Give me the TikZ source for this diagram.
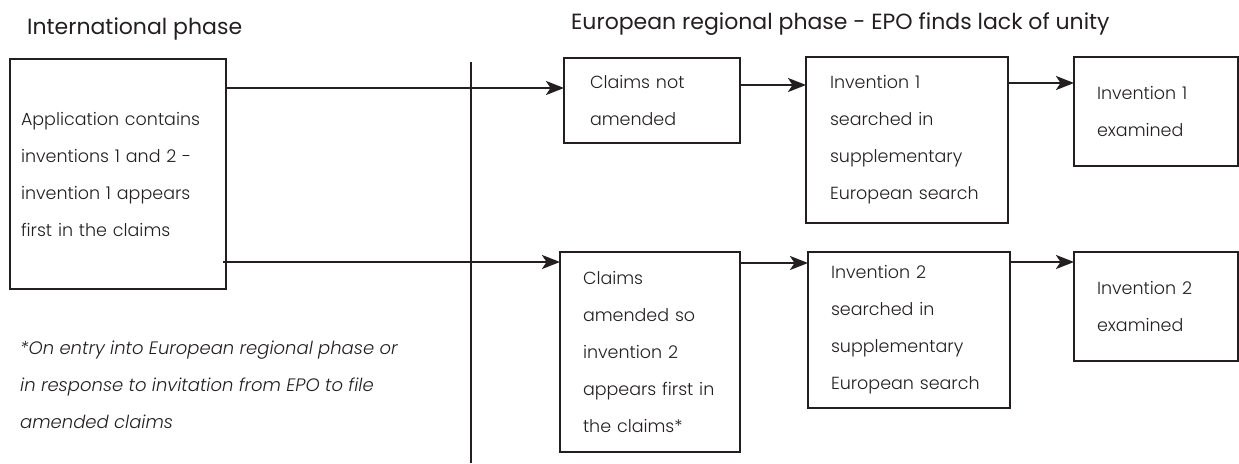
\documentclass[tikz,border=0pt]{standalone}
\usepackage{fontspec}
\setmainfont{Poppins}
\newfontfamily\lightfont{Poppins}[UprightFont=* Light,ItalicFont=* Light Italic]
\usetikzlibrary{arrows.meta}
\definecolor{ink}{HTML}{231F20}

\begin{document}
\begin{tikzpicture}[x=1pt,y=-1pt,color=ink]
\tikzstyle{stage}=[draw,line width=2.2pt,outer sep=0pt,anchor=north west,align=left,inner xsep=23pt,inner ysep=0pt,font=\lightfont\fontsize{17.5}{37}\selectfont]
\tikzstyle{flow}=[line width=2.2pt,-{Stealth[length=18pt,width=14pt,inset=4.5pt]}]
\tikzstyle{heading}=[anchor=base west,inner sep=0pt,font=\fontsize{22}{26}\selectfont]
\useasboundingbox (0,0) rectangle (1239,463);
\node[heading] (intl) at (27,34) {International phase};
\node[heading] (euro) at (571,29) {European regional phase - EPO finds lack of unity};
\node[stage,inner xsep=11pt,text width=194pt,minimum height=230pt] (app) at (10,59) {Application contains\\inventions 1 and 2 -\\invention 1 appears\\first in the claims};
\node[stage,inner xsep=26pt,text width=124pt,minimum height=85pt] (same) at (564,58) {Claims not\\amended};
\node[stage,inner xsep=24pt,text width=154pt,minimum height=166pt] (search1) at (806,57) {Invention 1\\searched in\\supplementary\\European search};
\node[stage,text width=118pt,minimum height=109pt] (exam1) at (1074,57) {Invention 1\\examined};
\node[stage,text width=134pt,minimum height=200pt] (amended) at (560,252) {Claims\\amended so\\invention 2\\appears first in\\the claims*};
\node[stage,text width=156pt,minimum height=156pt] (search2) at (808,252) {Invention 2\\searched in\\supplementary\\European search};
\node[stage,text width=118pt,minimum height=109pt] (exam2) at (1074,252) {Invention 2\\examined};
\node[anchor=north west,align=left,inner sep=0pt,font=\lightfont\itshape\fontsize{18}{37}\selectfont] (note) at (20,341) {*On entry into European regional phase or\\in response to invitation from EPO to file\\amended claims};
\draw[line width=2.2pt] (471,62) -- (471,463);
\draw[flow] ([yshift=-29pt]app.north east) -- ([yshift=-30pt]same.north west);
\draw[flow] ([xshift=-3pt,yshift=27pt]app.south east) -- ([yshift=-10pt]amended.north west);
\draw[flow] ([yshift=-27pt]same.north east) -- ([yshift=-28pt]search1.north west);
\draw[flow] ([yshift=-11pt]amended.north east) -- ([yshift=-11pt]search2.north west);
\draw[flow] ([yshift=-26pt]search1.north east) -- ([yshift=-26pt]exam1.north west);
\draw[flow] ([yshift=-10pt]search2.north east) -- ([yshift=-10pt]exam2.north west);
\end{tikzpicture}
\end{document}
